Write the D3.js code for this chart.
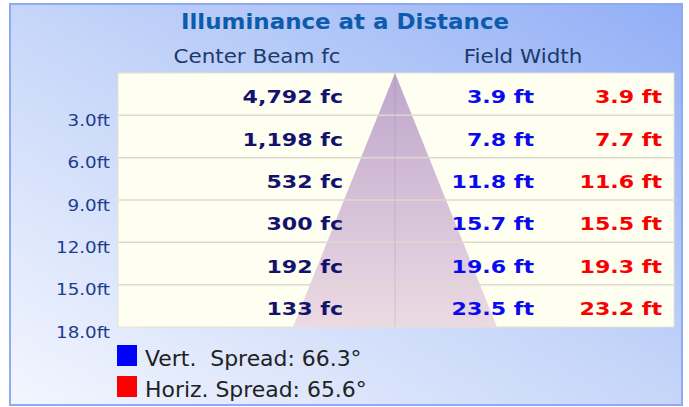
<!DOCTYPE html>
<html>
<head>
<meta charset="utf-8">
<script src="https://cdn.jsdelivr.net/npm/d3@7"></script>
<style>
  html, body { margin: 0; padding: 0; background: #ffffff; }
  svg { display: block; font-family: "DejaVu Sans", Verdana, sans-serif; }
  text { white-space: pre; }
</style>
</head>
<body>
<div class="chart"></div>
<script>

// data
const distances = [3, 6, 9, 12, 15, 18];
const centerBeamFc = [4792, 1198, 532, 300, 192, 133];
const vertWidth = [3.9, 7.8, 11.8, 15.7, 19.6, 23.5];
const horizWidth = [3.9, 7.7, 11.6, 15.5, 19.3, 23.2];
const spreadNames = ["Vert.  Spread: ", "Horiz. Spread: "];
const spreadAngles = [66.3, 65.6];
const spreadColors = ["#0000ff", "#ff0000"];
const TITLE = "Illuminance at a Distance";
const HEADS = ["Center Beam fc", "Field Width"];

const FRAME_WIDTH = 689;
const FRAME_HEIGHT = 407;
const PLOT = {left: 118, right: 674, top: 73, bottom: 327};
const CONE_X = 395;
const CONE_HALF = 102;

// text styles: size, weight, colour, horizontal stretch
const STYLES = {
    title:  {size: 20.5, weight: "bold",   color: "#0d5cab", sx: 1.12},
    head:   {size: 19.5, weight: "normal", color: "#1b3a6b", sx: 1.1},
    tick:   {size: 15,   weight: "normal", color: "#1d3c8c", sx: 1.22},
    fc:     {size: 18,   weight: "bold",   color: "#13136e", sx: 1.23},
    vert:   {size: 18,   weight: "bold",   color: "#0a0af0", sx: 1.23},
    horiz:  {size: 18,   weight: "bold",   color: "#f80000", sx: 1.23},
    legend: {size: 21.5, weight: "normal", color: "#222222", sx: 1.02}
};

const SVG = d3.select(".chart")
    .append("svg")
    .attr("width", FRAME_WIDTH)
    .attr("height", FRAME_HEIGHT);

const DEFS = SVG.append("defs");

const BG = DEFS.append("linearGradient")
    .attr("id", "bg")
    .attr("x1", 0).attr("y1", 1)
    .attr("x2", 1).attr("y2", 0);
BG.append("stop").attr("offset", 0).attr("stop-color", "#f3f6fe");
BG.append("stop").attr("offset", 0.5).attr("stop-color", "#c6d6f9");
BG.append("stop").attr("offset", 1).attr("stop-color", "#92aef6");

const CONE_FILL = DEFS.append("linearGradient")
    .attr("id", "cone")
    .attr("x1", 0).attr("y1", 0)
    .attr("x2", 0).attr("y2", 1);
CONE_FILL.append("stop").attr("offset", 0).attr("stop-color", "#bea6cd");
CONE_FILL.append("stop").attr("offset", 1).attr("stop-color", "#ecdae2");

function addText(parent, x, y, str, style, anchor) {
    const s = STYLES[style];
    return parent.append("text")
        .attr("transform", "translate(" + x + "," + y + ") scale(" + s.sx + ",1)")
        .attr("text-anchor", anchor)
        .attr("font-size", s.size)
        .attr("font-weight", s.weight)
        .attr("fill", s.color)
        .text(str);
}

// background panel
SVG.append("rect")
    .attr("x", 10).attr("y", 4)
    .attr("width", 672).attr("height", 401)
    .attr("fill", "url(#bg)")
    .attr("stroke", "#8eaaf3")
    .attr("stroke-width", 2);

// scales
const Y_SCALE = d3.scaleLinear()
    .domain([0, d3.max(distances)])
    .range([PLOT.top, PLOT.bottom]);

const maxHalfWidth = d3.max(vertWidth) / 2;
const X_CONE = d3.scaleLinear()
    .domain([-maxHalfWidth, maxHalfWidth])
    .range([CONE_X - CONE_HALF, CONE_X + CONE_HALF]);

// plot area
SVG.append("rect")
    .attr("x", PLOT.left).attr("y", PLOT.top)
    .attr("width", PLOT.right - PLOT.left)
    .attr("height", PLOT.bottom - PLOT.top)
    .attr("fill", "#fffff1")
    .attr("stroke", "#e4e2d2")
    .attr("stroke-width", 1);

// beam cone
const lastD = distances[distances.length - 1];
const lastW = vertWidth[vertWidth.length - 1] / 2;
const conePts = [[0, 0], [-lastW, lastD], [lastW, lastD]];
SVG.append("path")
    .attr("d", d3.line()
        .x((d) => X_CONE(d[0]))
        .y((d) => Y_SCALE(d[1]))(conePts) + "Z")
    .attr("fill", "url(#cone)");

// row lines
SVG.selectAll(".row-line")
    .data(distances.slice(0, -1))
    .enter()
    .append("line")
        .attr("class", "row-line")
        .attr("x1", PLOT.left + 1)
        .attr("x2", PLOT.right - 1)
        .attr("y1", (d) => Y_SCALE(d))
        .attr("y2", (d) => Y_SCALE(d))
        .attr("stroke", "#dcdace")
        .attr("stroke-width", 1.5);

// center line
SVG.append("line")
    .attr("x1", X_CONE(0)).attr("x2", X_CONE(0))
    .attr("y1", PLOT.top).attr("y2", PLOT.bottom)
    .attr("stroke", "#8a6a8a")
    .attr("stroke-opacity", 0.15)
    .attr("stroke-width", 1.5);

// y axis
const Y_AXIS = SVG.append("g")
    .attr("transform", "translate(" + PLOT.left + ",0)")
    .call(d3.axisLeft(Y_SCALE)
        .tickValues(distances)
        .tickSize(0)
        .tickPadding(8 / STYLES.tick.sx)
        .tickFormat((d) => d3.format(".1f")(d) + "ft"))
    .attr("font-family", null)
    .attr("font-size", null);
Y_AXIS.select(".domain").remove();
Y_AXIS.selectAll("text")
    .attr("dy", null)
    .attr("y", 10)
    .attr("transform", "scale(" + STYLES.tick.sx + ",1)")
    .style("font-family", "'DejaVu Sans', Verdana, sans-serif")
    .attr("font-size", STYLES.tick.size)
    .attr("fill", STYLES.tick.color);

// titles
addText(SVG, 345, 29, TITLE, "title", "middle");
addText(SVG, 257, 63, HEADS[0], "head", "middle");
addText(SVG, 523, 63, HEADS[1], "head", "middle");

// values per row
const fmtFc = d3.format(",");
const fmtFt = d3.format(".1f");
distances.forEach((d, i) => {
    const base = Y_SCALE(d) - 12;
    addText(SVG, 343, base, fmtFc(centerBeamFc[i]) + " fc", "fc", "end");
    addText(SVG, 534, base, fmtFt(vertWidth[i]) + " ft", "vert", "end");
    addText(SVG, 662, base, fmtFt(horizWidth[i]) + " ft", "horiz", "end");
});

// legend
spreadNames.forEach((name, i) => {
    const top = 345 + i * 31;
    SVG.append("rect")
        .attr("x", 117).attr("y", top)
        .attr("width", 20).attr("height", 21)
        .attr("fill", spreadColors[i]);
    addText(SVG, 145, top + 21, name + fmtFt(spreadAngles[i]) + "\u00b0", "legend", "start");
});

</script>
</body>
</html>
